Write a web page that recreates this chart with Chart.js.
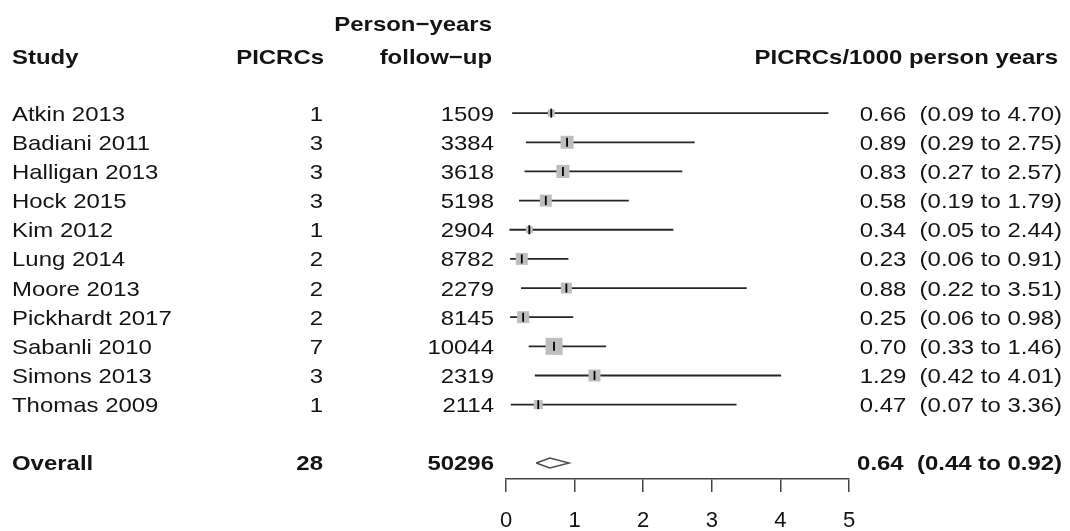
<!DOCTYPE html>
<html>
<head>
<meta charset="utf-8">
<script src="https://cdn.jsdelivr.net/npm/chart.js@4.4.0/dist/chart.umd.min.js"></script>
<style>
  html, body { margin: 0; padding: 0; background: #fff; }
</style>
</head>
<body>
<canvas id="forest" width="1070" height="531"></canvas>
<script>
// study data
const studies = ['Atkin 2013', 'Badiani 2011', 'Halligan 2013', 'Hock 2015', 'Kim 2012', 'Lung 2014',
                 'Moore 2013', 'Pickhardt 2017', 'Sabanli 2010', 'Simons 2013', 'Thomas 2009'];
const picrcs = [1, 3, 3, 3, 1, 2, 2, 2, 7, 3, 1];
const personYears = [1509, 3384, 3618, 5198, 2904, 8782, 2279, 8145, 10044, 2319, 2114];
const rates = [0.66, 0.89, 0.83, 0.58, 0.34, 0.23, 0.88, 0.25, 0.70, 1.29, 0.47];
const lower = [0.09, 0.29, 0.27, 0.19, 0.05, 0.06, 0.22, 0.06, 0.33, 0.42, 0.07];
const upper = [4.70, 2.75, 2.57, 1.79, 2.44, 0.91, 3.51, 0.98, 1.46, 4.01, 3.36];
const weights = [7, 13, 13, 12, 7, 12, 11, 12, 17, 12, 9]; // relative box weights

const overallLabel = 'Overall';
const overallPicrcs = 28;
const overallPersonYears = 50296;
const overallRate = 0.64;
const overallLower = 0.44;
const overallUpper = 0.92;

const xTicks = [0, 1, 2, 3, 4, 5];

// row layout (1 = top study)
const rows = studies.map((s, i) => i + 1);
const overallRow = 13;

const FONT = '"Liberation Sans", Arial, Helvetica, sans-serif';
const INK = '#141414';

const fmt = (r, l, u) => r.toFixed(2) + '  (' + l.toFixed(2) + ' to ' + u.toFixed(2) + ')';

function txt(ctx, s, x, y, align, bold) {
    ctx.save();
    ctx.font = (bold ? 'bold ' : '') + '21px ' + FONT;
    ctx.fillStyle = INK;
    ctx.textBaseline = 'alphabetic';
    ctx.textAlign = align;
    ctx.translate(x, y);
    ctx.scale(1.14, 1);
    ctx.fillText(s, 0, 0);
    ctx.restore();
}

// draws the text columns next to the plot
const columnsPlugin = {
    id: 'columns',
    afterDraw(chart) {
        const ctx = chart.ctx;
        const ys = chart.scales.y;
        const base = v => ys.getPixelForValue(v) + 7.5;

        // headers
        txt(ctx, 'Study', 12, base(-0.95), 'left', true);
        txt(ctx, 'PICRCs', 324, base(-0.95), 'right', true);
        txt(ctx, 'Person\u2212years', 492, base(-2.07), 'right', true);
        txt(ctx, 'follow\u2212up', 492, base(-0.95), 'right', true);
        txt(ctx, 'PICRCs/1000 person years', 1058, base(-0.95), 'right', true);

        studies.forEach((s, i) => {
            const y = base(rows[i]);
            txt(ctx, s, 12, y, 'left', false);
            txt(ctx, String(picrcs[i]), 323, y, 'right', false);
            txt(ctx, String(personYears[i]), 494, y, 'right', false);
            txt(ctx, fmt(rates[i], lower[i], upper[i]), 1062, y, 'right', false);
        });

        const yo = base(overallRow);
        txt(ctx, overallLabel, 12, yo, 'left', true);
        txt(ctx, String(overallPicrcs), 323, yo, 'right', true);
        txt(ctx, String(overallPersonYears), 494, yo, 'right', true);
        txt(ctx, fmt(overallRate, overallLower, overallUpper), 1062, yo, 'right', true);
    }
};

// datasets: point ticks on top, then boxes, then CI lines, then diamond
const tickSet = {
    data: rates.map((r, i) => ({ x: r, y: rows[i] })),
    pointStyle: 'line',
    rotation: 90,
    pointRadius: 4.5,
    borderColor: '#000',
    borderWidth: 1.8,
    showLine: false
};

const boxSet = {
    data: rates.map((r, i) => ({ x: r, y: rows[i] })),
    pointStyle: 'rect',
    pointRadius: weights.map(w => w / Math.SQRT2),
    backgroundColor: '#bebebe',
    borderWidth: 0,
    showLine: false
};

const ciSets = studies.map((s, i) => ({
    data: [{ x: lower[i], y: rows[i] }, { x: upper[i], y: rows[i] }],
    showLine: true,
    borderColor: '#262626',
    borderWidth: 1.8,
    pointRadius: 0,
    fill: false
}));

const dh = 0.17; // diamond half height in rows
const diamondSet = {
    data: [
        { x: overallLower, y: overallRow },
        { x: overallRate, y: overallRow - dh },
        { x: overallUpper, y: overallRow },
        { x: overallRate, y: overallRow + dh },
        { x: overallLower, y: overallRow }
    ],
    showLine: true,
    borderColor: '#4a4a4a',
    borderWidth: 1.4,
    backgroundColor: '#fff',
    pointRadius: 0,
    fill: false,
    tension: 0
};

new Chart(document.getElementById('forest').getContext('2d'), {
    type: 'scatter',
    data: {
        datasets: [tickSet, boxSet, ...ciSets, diamondSet]
    },
    options: {
        responsive: false,
        animation: false,
        events: [],
        layout: { padding: { left: 506, right: 221, top: 84, bottom: 0 } },
        plugins: {
            legend: { display: false },
            tooltip: { enabled: false }
        },
        scales: {
            x: {
                type: 'linear',
                position: 'bottom',
                min: 0,
                max: 5,
                afterBuildTicks: s => { s.ticks = xTicks.map(v => ({ value: v })); },
                afterFit: s => { s.height = 52; },
                ticks: {
                    color: INK,
                    padding: 16,
                    font: { family: FONT, size: 22 }
                },
                grid: {
                    drawOnChartArea: false,
                    drawTicks: true,
                    tickLength: 13,
                    color: '#444',
                    lineWidth: 1.5
                },
                border: { display: true, color: '#444', width: 1.5 }
            },
            y: {
                type: 'linear',
                min: 0,
                max: 13.55,
                reverse: true,
                display: false
            }
        }
    },
    plugins: [columnsPlugin]
});
</script>
</body>
</html>
